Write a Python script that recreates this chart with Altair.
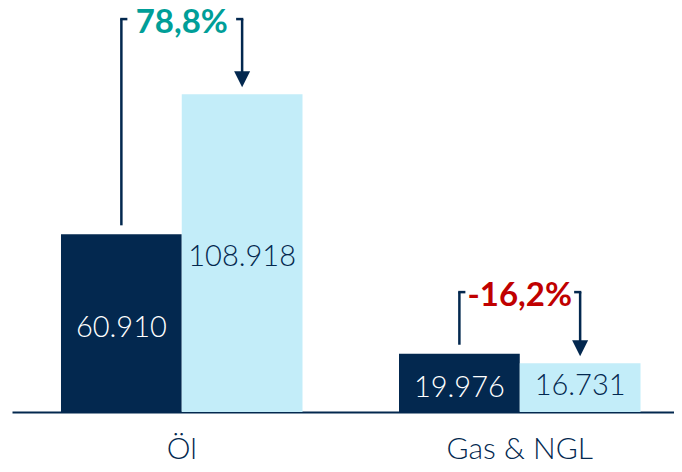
import altair as alt
import pandas as pd

# ---- data ----
categories = ["Öl", "Gas & NGL"]
series = ["Vorjahr", "Berichtsjahr"]
prev_values = [60910, 19976]
curr_values = [108918, 16731]
change_labels = ["78,8%", "-16,2%"]
change_values = [78.8, -16.2]
bracket_levels = [134700, 41100]

NAVY = "#03284f"
LIGHT = "#c3edf9"
TEAL = "#009e98"
RED = "#c00000"
FONT = "Lato"


def fmt(v):
    return f"{v:,}".replace(",", ".")


bar_rows = []
for c, p, v in zip(categories, prev_values, curr_values):
    bar_rows.append({"cat": c, "series": series[0], "value": p, "label": fmt(p), "label_y": p / 2})
    bar_rows.append({"cat": c, "series": series[1], "value": v, "label": fmt(v), "label_y": min(p, v)})
bars_df = pd.DataFrame(bar_rows)

ann_rows = []
for c, p, v, lab, chg, lvl in zip(categories, prev_values, curr_values, change_labels, change_values, bracket_levels):
    ann_rows.append({"cat": c, "s0": series[0], "s1": series[1], "prev": p, "curr": v,
                     "level": lvl, "text": lab, "color": TEAL if chg >= 0 else RED})
ann_df = pd.DataFrame(ann_rows)

x_enc = alt.X(
    "cat:N",
    sort=categories,
    scale=alt.Scale(domain=categories, paddingInner=0.2855, paddingOuter=0.122, align=0.594),
    axis=alt.Axis(
        title=None, labelAngle=0, ticks=False, grid=False,
        domain=True, domainColor=NAVY, domainWidth=2,
        labelFont=FONT, labelFontSize=30, labelFontWeight=300,
        labelColor=NAVY, labelPadding=22,
    ),
)
y_scale = alt.Scale(domain=[0, 138500], nice=False, zero=True)
xoff_scale = alt.Scale(domain=series, paddingInner=0, paddingOuter=0)

base = alt.Chart(bars_df)

bars = base.mark_bar(opacity=1).encode(
    x=x_enc,
    xOffset=alt.XOffset("series:N", scale=xoff_scale),
    y=alt.Y("value:Q", scale=y_scale, axis=None),
    color=alt.Color("series:N",
                    scale=alt.Scale(domain=series, range=[NAVY, LIGHT]), legend=None),
)

dark_labels = base.transform_filter(alt.datum.series == series[0]).mark_text(
    font=FONT, fontSize=29, fontWeight=300, color="white", baseline="middle", dy=5
).encode(
    x=alt.X("cat:N"),
    xOffset=alt.XOffset("series:N"),
    y=alt.Y("label_y:Q", scale=y_scale),
    text="label:N",
)

light_labels = base.transform_filter(alt.datum.series == series[1]).mark_text(
    font=FONT, fontSize=29, fontWeight=300, color=NAVY, baseline="middle", dy=23
).encode(
    x=alt.X("cat:N"),
    xOffset=alt.XOffset("series:N"),
    y=alt.Y("label_y:Q", scale=y_scale),
    text="label:N",
)

ann = alt.Chart(ann_df)

left_line = ann.mark_rule(color=NAVY, strokeWidth=2.5, y2Offset=-9).encode(
    x=alt.X("cat:N"),
    xOffset=alt.XOffset("s0:N"),
    y=alt.Y("level:Q", scale=y_scale),
    y2="prev:Q",
)
# small serifs at the bracket corners (custom symbols extending to one side)
left_serif = ann.mark_point(shape="M-0.2,-0.21L1,-0.21L1,0.21L-0.2,0.21Z", filled=True,
                            size=144, opacity=1, color=NAVY).encode(
    x=alt.X("cat:N"),
    xOffset=alt.XOffset("s0:N"),
    y=alt.Y("level:Q", scale=y_scale),
)
right_line = ann.mark_rule(color=NAVY, strokeWidth=2.5, y2Offset=-22).encode(
    x=alt.X("cat:N"),
    xOffset=alt.XOffset("s1:N"),
    y=alt.Y("level:Q", scale=y_scale),
    y2="curr:Q",
)
right_serif = ann.mark_point(shape="M-1,-0.21L0.2,-0.21L0.2,0.21L-1,0.21Z", filled=True,
                             size=144, opacity=1, color=NAVY).encode(
    x=alt.X("cat:N"),
    xOffset=alt.XOffset("s1:N"),
    y=alt.Y("level:Q", scale=y_scale),
)
arrow = ann.mark_point(shape="M-1,-1L1,-1L0,1Z", filled=True, size=256, opacity=1,
                       color=NAVY, yOffset=-15).encode(
    x=alt.X("cat:N"),
    xOffset=alt.XOffset("s1:N"),
    y=alt.Y("curr:Q", scale=y_scale),
)
pct = ann.mark_text(font=FONT, fontSize=33, fontWeight="bold", baseline="middle", dy=4).encode(
    x=alt.X("cat:N"),
    y=alt.Y("level:Q", scale=y_scale),
    text="text:N",
    color=alt.Color("color:N", scale=None),
)

chart = alt.layer(
    bars, dark_labels, light_labels, left_line, left_serif, right_line, right_serif, arrow, pct
).properties(
    width=662,
    height=404,
    autosize=alt.AutoSizeParams(type="none"),
    padding={"left": 4, "top": 0, "right": 0, "bottom": 52},
    background="white",
).configure_view(strokeWidth=0)

chart.save("out.html", embed_options={"renderer": "svg", "actions": False})
